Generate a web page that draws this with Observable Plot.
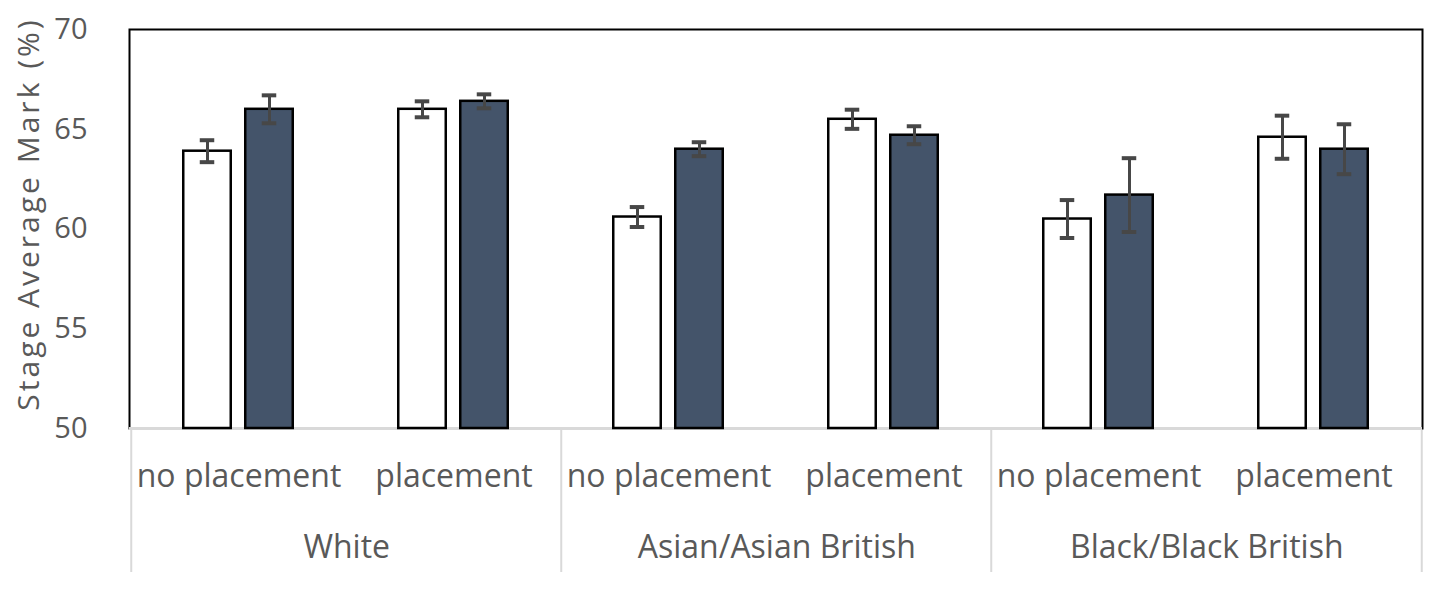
<!DOCTYPE html>
<html>
<head>
<meta charset="utf-8">
<script src="https://cdn.jsdelivr.net/npm/d3@7"></script>
<script src="https://cdn.jsdelivr.net/npm/@observablehq/plot@0.6"></script>
<style>
  html, body { margin: 0; padding: 0; background: #fff; }
</style>
</head>
<body>
<div id="chart"></div>
<script>
// ---- data ----
const groups = ["White", "Asian/Asian British", "Black/Black British"];
const subgroups = ["no placement", "placement"];
// white (outlined) bars, in order White/no, White/pl, Asian/no, Asian/pl, Black/no, Black/pl
const seriesAMean = [63.9, 66.0, 60.6, 65.5, 60.5, 64.6];
const seriesAErr  = [0.55, 0.4, 0.5, 0.48, 0.95, 1.08];
// dark bars
const seriesBMean = [66.0, 66.4, 64.0, 64.7, 61.7, 64.0];
const seriesBErr  = [0.7, 0.35, 0.35, 0.45, 1.85, 1.25];
const yTicks = [50, 55, 60, 65, 70];
const yLabel = "Stage Average Mark (%)";

// ---- table ----
const key = (g, s) => g + " | " + s;
const rows = [];
groups.forEach((g, gi) => subgroups.forEach((s, si) => {
  const i = gi * 2 + si;
  rows.push({group: g, sub: s, key: key(g, s),
    a: seriesAMean[i], ae: seriesAErr[i], b: seriesBMean[i], be: seriesBErr[i]});
}));
const firstOfGroup = rows.filter(r => r.sub === subgroups[0]);
const lastRow = rows[rows.length - 1];
const yMin = yTicks[0], yMax = yTicks[yTicks.length - 1];

const W = 1450, H = 596;
const mL = 129, mR = 28, mT = 29, mB = 168;
const band = (W - mL - mR) / rows.length;
const barW = 48;
const offA = -31.5, offB = 30.5;
const inset = (band - barW) / 2;
const capInset = (band - 15) / 2;
const dark = "#44546a";
const errC = "#474747";
const grey = "#d9d9d9";
const txt = "#595959";

const chart = Plot.plot({
  width: W, height: H,
  marginLeft: mL, marginRight: mR, marginTop: mT, marginBottom: mB,
  style: {fontFamily: "Open Sans", fontSize: "29px", color: txt, background: "#fff"},
  x: {type: "band", domain: rows.map(r => r.key), padding: 0, axis: null},
  y: {domain: [yMin, yMax], ticks: yTicks, label: null},
  marks: [
    // group separators below the plot
    Plot.ruleX(firstOfGroup, {x: "key", dx: -band / 2, stroke: grey, strokeWidth: 2, insetTop: H - mT - mB, insetBottom: -144}),
    Plot.ruleX([lastRow], {x: "key", dx: band / 2, stroke: grey, strokeWidth: 2, insetTop: H - mT - mB, insetBottom: -144}),
    Plot.frame({stroke: "#000", strokeWidth: 2}),
    Plot.ruleY([yMin], {stroke: grey, strokeWidth: 3}),
    // bars
    Plot.barY(rows, {x: "key", y1: yMin, y2: "a", dx: offA, insetLeft: inset, insetRight: inset, fill: "#fff", stroke: "#000", strokeWidth: 2.5}),
    Plot.barY(rows, {x: "key", y1: yMin, y2: "b", dx: offB, insetLeft: inset, insetRight: inset, fill: dark, stroke: "#000", strokeWidth: 2.5}),
    // error bars
    Plot.ruleX(rows, {x: "key", y1: d => d.a - d.ae, y2: d => d.a + d.ae, dx: offA, stroke: errC, strokeWidth: 3}),
    Plot.tickY(rows, {x: "key", y: d => d.a - d.ae, dx: offA, insetLeft: capInset, insetRight: capInset, stroke: errC, strokeWidth: 4}),
    Plot.tickY(rows, {x: "key", y: d => d.a + d.ae, dx: offA, insetLeft: capInset, insetRight: capInset, stroke: errC, strokeWidth: 4}),
    Plot.ruleX(rows, {x: "key", y1: d => d.b - d.be, y2: d => d.b + d.be, dx: offB, stroke: errC, strokeWidth: 3}),
    Plot.tickY(rows, {x: "key", y: d => d.b - d.be, dx: offB, insetLeft: capInset, insetRight: capInset, stroke: errC, strokeWidth: 4}),
    Plot.tickY(rows, {x: "key", y: d => d.b + d.be, dx: offB, insetLeft: capInset, insetRight: capInset, stroke: errC, strokeWidth: 4}),
    // y axis
    Plot.axisY({ticks: yTicks, tickSize: 0, tickPadding: 42, label: null, fontSize: 29, fill: txt}),
    Plot.text([yLabel], {text: d => d, frameAnchor: "left", textAnchor: "middle", rotate: -90, dx: -100, dy: -15, fontSize: 30, fill: txt}),
    // category labels
    Plot.text(rows, {x: "key", text: "sub", frameAnchor: "bottom", dy: 58, fontSize: 32, fill: txt}),
    Plot.text(firstOfGroup, {x: "key", text: "group", dx: band / 2, frameAnchor: "bottom", dy: 129, fontSize: 32, fill: txt})
  ]
});
// widen the letter spacing of the y-axis title, as in the reference
d3.select(chart).selectAll("text").filter(function() { return this.textContent === yLabel; })
  .attr("letter-spacing", "3px");
document.getElementById("chart").appendChild(chart);
</script>
</body>
</html>
